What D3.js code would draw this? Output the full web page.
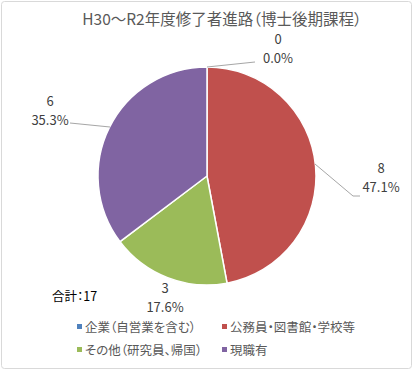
<!DOCTYPE html>
<html>
<head>
<meta charset="utf-8">
<script src="https://cdn.jsdelivr.net/npm/d3@7"></script>
<style>
body { margin: 0; background: #fff; }
text { font-family: "Noto Sans CJK JP", "Noto Sans", sans-serif; font-feature-settings: "palt"; }
</style>
</head>
<body>
<svg id="chart" width="414" height="371"></svg>
<script>
var categories = ["企業（自営業を含む）", "公務員・図書館・学校等", "その他（研究員、帰国）", "現職有"];
var counts = [0, 8, 3, 6];
var colors = ["#4F81BD", "#C0504D", "#9BBB59", "#8064A2"];
var title = "H30～R2年度修了者進路（博士後期課程）";
var totalLabel = "合計：17";

var svg = d3.select("#chart");

svg.append("rect")
    .attr("x", 1.5).attr("y", 1.5)
    .attr("width", 410).attr("height", 367)
    .attr("rx", 3)
    .attr("fill", "#fff")
    .attr("stroke", "#d9d9d9");

svg.append("text")
    .attr("x", 222).attr("y", 25)
    .attr("text-anchor", "middle")
    .attr("font-size", 15.5)
    .attr("fill", "#595959")
    .text(title);

var cx = 207, cy = 176, r = 109;
var total = d3.sum(counts);

var pie = d3.pie().sort(null).value(function(d) { return d; });
var arcs = pie(counts);
var arc = d3.arc().innerRadius(0).outerRadius(r);

var g = svg.append("g").attr("transform", "translate(" + cx + "," + cy + ")");
g.selectAll("path")
    .data(arcs)
    .enter()
    .append("path")
    .attr("d", arc)
    .attr("fill", function(d, i) { return colors[i]; })
    .attr("stroke", "#fff")
    .attr("stroke-width", 1.5);

// label positions and leader lines
var labelPos = [[278, 45], [381, 174], [165, 294], [50, 107]];
var leaders = [
    [[207, 67], [255, 62]],
    [[315, 164], [353, 196], [360, 196]],
    null,
    [[70, 123], [110, 127]]
];

leaders.forEach(function(pts) {
    if (!pts) return;
    svg.append("path")
        .attr("d", d3.line()(pts))
        .attr("fill", "none")
        .attr("stroke", "#a6a6a6")
        .attr("stroke-width", 1);
});

arcs.forEach(function(d, i) {
    var t = svg.append("text")
        .attr("text-anchor", "middle")
        .attr("font-size", 13)
        .attr("fill", "#404040");
    t.append("tspan")
        .attr("x", labelPos[i][0]).attr("y", labelPos[i][1] - 1)
        .text(counts[i]);
    t.append("tspan")
        .attr("x", labelPos[i][0]).attr("y", labelPos[i][1] + 18)
        .text(d3.format(".1%")(counts[i] / total));
});

svg.append("text")
    .attr("x", 52).attr("y", 301)
    .attr("font-size", 12.5)
    .attr("fill", "#000")
    .text(totalLabel);

// legend
var legendX = [77, 222], legendY = [327, 350];
categories.forEach(function(c, i) {
    var lx = legendX[i % 2], ly = legendY[Math.floor(i / 2)];
    svg.append("rect")
        .attr("x", lx).attr("y", ly - 3)
        .attr("width", 5).attr("height", 5)
        .attr("fill", colors[i]);
    svg.append("text")
        .attr("x", lx + 8).attr("y", ly + 5)
        .attr("font-size", 12.5)
        .attr("fill", "#595959")
        .text(c);
});
</script>
</body>
</html>
